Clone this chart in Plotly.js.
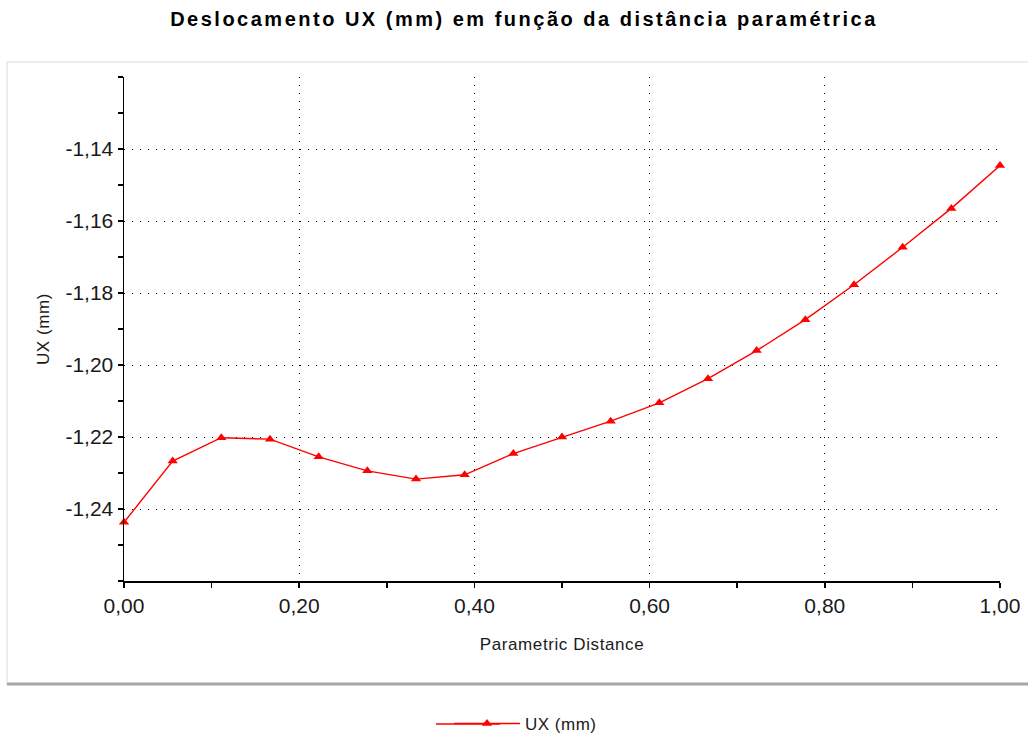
<!DOCTYPE html>
<html>
<head>
<meta charset="utf-8">
<script src="https://cdn.plot.ly/plotly-3.0.1.min.js"></script>
<style>
html,body{margin:0;padding:0;background:#fff;}
#chart{width:1028px;height:735px;}
.gtitle{letter-spacing:2.5px;}
.g-xtitle text,.g-ytitle text{letter-spacing:0.6px;}
.legendtext{letter-spacing:0.5px;}
</style>
</head>
<body>
<div id="chart"></div>
<script>
const distance = [0, 1/18, 2/18, 3/18, 4/18, 5/18, 6/18, 7/18, 8/18, 9/18, 10/18, 11/18, 12/18, 13/18, 14/18, 15/18, 16/18, 17/18, 1];
const uxValues = [-1.2437, -1.2267, -1.2202, -1.2206, -1.2255, -1.2294, -1.2317, -1.2305, -1.2246, -1.2200, -1.2156, -1.2105, -1.2038, -1.1960, -1.1874, -1.1777, -1.1673, -1.1565, -1.1446];
const yTickVals = [-1.14, -1.16, -1.18, -1.20, -1.22, -1.24];
const yTickText = ['-1,14', '-1,16', '-1,18', '-1,20', '-1,22', '-1,24'];
const xTickVals = [0, 0.2, 0.4, 0.6, 0.8, 1.0];
const xTickText = ['0,00', '0,20', '0,40', '0,60', '0,80', '1,00'];
const seriesName = 'UX (mm)';
const chartTitle = 'Deslocamento UX (mm) em função da distância paramétrica';

const W = 1028, H = 735, L = 124, R = 28, T = 77, B = 154;
const pw = W - L - R, ph = H - T - B;
const px = v => (v - L) / pw;
const py = v => (H - B - v) / ph;

const font = 'Liberation Sans, Arial, sans-serif';

const trace = {
  x: distance, y: uxValues, name: seriesName,
  type: 'scatter', mode: 'lines+markers',
  line: {color: '#ff0000', width: 1.4},
  marker: {symbol: 'triangle-up', size: 9, color: '#ff0000'},
  cliponaxis: false
};

const layout = {
  width: W, height: H,
  margin: {l: L, r: R, t: T, b: B, pad: 0, autoexpand: false},
  paper_bgcolor: '#ffffff', plot_bgcolor: '#ffffff',
  separators: ',.',
  font: {family: font, color: '#1a1a1a'},
  title: {text: chartTitle, font: {family: font, size: 20, weight: 'bold', color: '#000'},
          x: 524 / W, xref: 'container', xanchor: 'center', y: 1 - 19 / H, yref: 'container', yanchor: 'middle'},
  xaxis: {
    range: [0, 1], tickvals: xTickVals, ticktext: xTickText,
    showline: true, linecolor: '#000', linewidth: 1.5,
    ticks: 'outside', ticklen: 5, tickcolor: '#000', tickwidth: 1.5,
    minor: {dtick: 0.1, tick0: 0, ticks: 'outside', ticklen: 5, tickcolor: '#000', tickwidth: 1.5, showgrid: false},
    showgrid: true, gridcolor: '#000', griddash: '1px,7px', gridwidth: 1,
    zeroline: false, tickfont: {size: 21, color: '#1a1a1a'},
    title: {text: 'Parametric Distance', font: {size: 17, color: '#1a1a1a'}, standoff: 22},
    automargin: false, fixedrange: true
  },
  yaxis: {
    range: [-1.26, -1.12], tickvals: yTickVals, ticktext: yTickText,
    showline: true, linecolor: '#000', linewidth: 1.5,
    ticks: 'outside', ticklen: 5, tickcolor: '#000', tickwidth: 1.5,
    minor: {dtick: 0.01, tick0: -1.26, ticks: 'outside', ticklen: 5, tickcolor: '#000', tickwidth: 1.5, showgrid: false},
    showgrid: true, gridcolor: '#000', griddash: '1px,7px', gridwidth: 1,
    zeroline: false, tickfont: {size: 21, color: '#1a1a1a'},
    title: {text: 'UX (mm)', font: {size: 17, color: '#1a1a1a'}, standoff: 11},
    automargin: false, fixedrange: true
  },
  showlegend: true,
  legend: {orientation: 'h', x: px(449), xanchor: 'left', y: py(724), yanchor: 'middle', itemwidth: 66,
           font: {size: 17, color: '#1a1a1a'}, bgcolor: 'rgba(0,0,0,0)'},
  shapes: [
    {type: 'rect', xref: 'paper', yref: 'paper', x0: px(7), x1: px(1030), y0: py(684), y1: py(62),
     line: {color: '#ececec', width: 2}, fillcolor: 'rgba(0,0,0,0)', layer: 'below'},
    {type: 'line', xref: 'paper', yref: 'paper', x0: px(7), x1: px(1030), y0: py(684), y1: py(684),
     line: {color: '#a8a8a8', width: 3}},
    {type: 'line', xref: 'paper', yref: 'paper', x0: px(436), x1: px(500), y0: py(724), y1: py(724),
     line: {color: '#ff0000', width: 1.5}}
  ]
};

Plotly.newPlot('chart', [trace], layout, {displayModeBar: false, staticPlot: true});
</script>
</body>
</html>
